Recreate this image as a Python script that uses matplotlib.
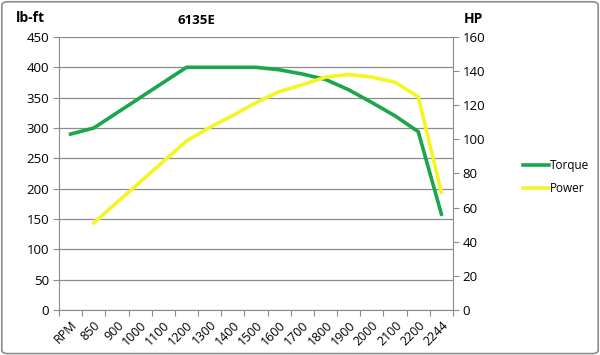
import matplotlib
matplotlib.use("Agg")
import matplotlib.pyplot as plt
from matplotlib.patches import FancyBboxPatch
from matplotlib.lines import Line2D
import numpy as np

categories = ["RPM", "850", "900", "1000", "1100", "1200", "1300", "1400", "1500",
              "1600", "1700", "1800", "1900", "2000", "2100", "2200", "2244"]
torque = [290, 300, 325, 350, 375, 400, 400, 400, 400, 396, 389, 380, 363, 342, 320, 294, 158]
power = [None, 51, 63, 75, 87, 99, 107, 114, 121.5, 128, 132, 136.5, 138, 136.5, 133.5, 125, 69]
left_ticks = [0, 50, 100, 150, 200, 250, 300, 350, 400, 450]
right_ticks = [0, 20, 40, 60, 80, 100, 120, 140, 160]

plt.rcParams['font.family'] = ['Open Sans', 'DejaVu Sans']
fig = plt.figure(figsize=(6, 3.55), dpi=100)
ax = fig.add_axes([59/600, 1-310/355, (453-59)/600, (310-37)/355])
ax2 = ax.twinx()

x = np.arange(len(categories))
green = '#1aa64a'
yellow = '#f5f524'
ax.plot(x, torque, color=green, lw=2.6, solid_joinstyle='miter', zorder=3)
pw = np.array([np.nan if v is None else v for v in power], dtype=float)
ax2.plot(x, pw, color=yellow, lw=2.6, solid_joinstyle='miter', zorder=3)

ax.set_xlim(-0.5, len(categories) - 0.5)
ax.set_ylim(0, 450)
ax2.set_ylim(0, 160)
ax.set_yticks(left_ticks)
ax2.set_yticks(right_ticks)
ax.yaxis.grid(True, color='#8c8c8c', lw=0.9)
ax.set_axisbelow(True)

ax.set_xticks(np.arange(len(categories) + 1) - 0.5)
ax.set_xticklabels([])
ax.set_xticks(x, minor=True)
ax.set_xticklabels(categories, minor=True, rotation=45, ha='right', va='top',
                   rotation_mode='anchor', fontsize=9)
ax.tick_params(axis='x', which='minor', length=0, pad=6)
ax.tick_params(axis='x', which='major', length=4, color='#8c8c8c')
ax.tick_params(axis='y', length=4, color='#8c8c8c', labelsize=9.5, pad=3)
ax2.tick_params(axis='y', length=4, color='#8c8c8c', labelsize=9.5, pad=3)

for a in (ax, ax2):
    a.spines['top'].set_visible(False)
    for s in ('left', 'right', 'bottom'):
        a.spines[s].set_color('#8c8c8c')
ax.spines['right'].set_visible(False)
ax2.spines['left'].set_visible(False)
ax2.spines['bottom'].set_visible(False)

fig.text(196/600, 1-20/355, "6135E", fontsize=9.5, fontweight='bold', ha='center', va='center')
fig.text(16/600, 1-18/355, "lb-ft", fontsize=10, fontweight='bold', ha='left', va='center')
fig.text(464/600, 1-19/355, "HP", fontsize=10, fontweight='bold', ha='left', va='center')

handles = [Line2D([], [], color=green, lw=2.6), Line2D([], [], color=yellow, lw=2.6)]
leg = fig.legend(handles, ["Torque", "Power"], loc='center left',
                 bbox_to_anchor=(512/600, 1-177/355), frameon=False,
                 fontsize=8.5, handlelength=2.2, handletextpad=0.1, labelspacing=0.9)

border = FancyBboxPatch((0.003, 0.004), 0.994, 0.991, boxstyle="round,pad=0,rounding_size=0.01",
                        transform=fig.transFigure, fill=False, edgecolor='#8c8c8c', lw=1.2)
fig.patches.append(border)

fig.savefig("out.png", dpi=100)
